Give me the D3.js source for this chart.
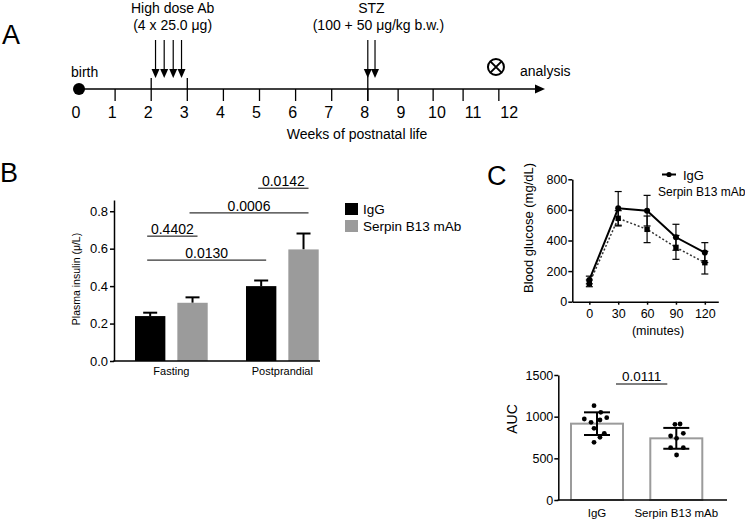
<!DOCTYPE html>
<html><head><meta charset="utf-8">
<script src="https://cdn.jsdelivr.net/npm/d3@7"></script>
<style>
body{margin:0;background:#fff}
svg text{font-family:"Liberation Sans",Arial,Helvetica,sans-serif;fill:#000}
</style>
</head><body>
<svg id="chart" width="745" height="520"></svg>
<script>
// ---------- Panel A data ----------
const weekLabels = [0,1,2,3,4,5,6,7,8,9,10,11,12];
const tickWeeks = [1,2,3,4,5,6,7,8,8.84,9.81,10.64,11.63];
const bracketWeeks = [2,3];
const abWeeks = [2.12,2.36,2.61,2.84];
const stzWeeks = [8.0,8.2];
const analysisWeek = 11.55;

// ---------- Panel B data ----------
const groups = ["Fasting","Postprandial"];
const seriesB = ["IgG","Serpin B13 mAb"];
const insulinIgG = [0.240, 0.400];
const insulinIgGErr = [0.018, 0.030];
const insulinSerpin = [0.311, 0.596];
const insulinSerpinErr = [0.029, 0.085];
const insulinTicks = [0,0.2,0.4,0.6,0.8];
const compLabels = ["0.4402","0.0130","0.0006","0.0142"];
const compFrom = [["Fasting","IgG"],["Fasting","IgG"],["Fasting","Serpin B13 mAb"],["Postprandial","IgG"]];
const compTo = [["Fasting","Serpin B13 mAb"],["Postprandial","IgG"],["Postprandial","Serpin B13 mAb"],["Postprandial","Serpin B13 mAb"]];
const compLevel = [0.667,0.539,0.791,0.923];

// ---------- Panel C (glucose) data ----------
const minutes = [0,30,60,90,120];
const glucoseIgG = [142,610,595,421,321];
const glucoseIgGSD = [25,110,100,85,65];
const glucoseSerpin = [120,545,473,355,255];
const glucoseSerpinSD = [22,50,87,78,74];
const glucoseTicks = [0,200,400,600,800];

// ---------- Panel C (AUC) data ----------
const aucGroups = ["IgG","Serpin B13 mAb"];
const aucMean = [916,740];
const aucSD = [136,125];
const aucIgG = [1132,1052,972,932,960,988,860,800,752,692];
const aucSerpin = [908,912,768,800,740,628,628,540];
const jitterIgG = [-0.055,0.07,-0.235,-0.11,0.055,0.18,-0.055,0.135,0.055,-0.055];
const jitterSerpin = [-0.025,0.07,-0.105,0.13,0.005,-0.105,0.13,0.005];
const aucTicks = [0,500,1000,1500];
const aucP = "0.0111";

const svg = d3.select("#chart");
const FONT = '"Liberation Sans",Arial,Helvetica,sans-serif';

function label(g, txt, x, y, size, anchor, rot){
  const t = g.append("text").text(txt).attr("font-size", size).attr("text-anchor", anchor||"start");
  if(rot){ t.attr("transform",`translate(${x},${y}) rotate(${rot})`); }
  else { t.attr("x",x).attr("y",y); }
  return t;
}

// ================= Panel A =================
{
  const g = svg.append("g");
  const x = d3.scaleLinear().domain([0,12]).range([79, 79+36.1*12]);
  const yA = 89;
  label(g,"A",2,44,27);
  g.append("line").attr("x1",x(0)).attr("x2",541).attr("y1",yA).attr("y2",yA).attr("stroke","#000").attr("stroke-width",1.5);
  g.append("path").attr("d",`M535,${yA-4.5}L545,${yA}L535,${yA+4.5}Z`).attr("fill","#000");
  g.append("circle").attr("cx",x(0)).attr("cy",yA).attr("r",6).attr("fill","#000");
  g.selectAll(".tk").data(tickWeeks).join("line")
    .attr("x1",d=>x(d)).attr("x2",d=>x(d))
    .attr("y1",d=>bracketWeeks.includes(d)?78:yA).attr("y2",101)
    .attr("stroke","#000").attr("stroke-width",1.3);
  g.selectAll(".tl").data(weekLabels).join("text")
    .attr("x",d=>x(d)-3).attr("y",118).attr("text-anchor","middle").attr("font-size",16).text(d=>d);
  function arrow(w){
    g.append("line").attr("x1",x(w)).attr("x2",x(w)).attr("y1",40).attr("y2",71).attr("stroke","#000").attr("stroke-width",1.2);
    g.append("path").attr("d",`M${x(w)-4},69L${x(w)+4},69L${x(w)},78Z`).attr("fill","#000");
  }
  abWeeks.forEach(arrow);
  stzWeeks.forEach(arrow);
  g.append("line").attr("x1",x(stzWeeks[0])).attr("x2",x(stzWeeks[0])).attr("y1",76).attr("y2",101).attr("stroke","#000").attr("stroke-width",1.3);
  const abC = x(d3.mean(abWeeks))+4;
  label(g,"High dose Ab",abC,13,14,"middle");
  label(g,"(4 x 25.0 μg)",abC,30,14,"middle");
  const stzC = x(d3.mean(stzWeeks));
  label(g,"STZ",stzC,13,14,"middle");
  label(g,"(100 + 50 μg/kg b.w.)",stzC+7,30,14,"middle");
  label(g,"birth",71,77,14);
  const ax = x(analysisWeek), ay = 67, r = 8;
  g.append("circle").attr("cx",ax).attr("cy",ay).attr("r",r).attr("fill","none").attr("stroke","#000").attr("stroke-width",2);
  const k = r*0.7;
  g.append("path").attr("d",`M${ax-k},${ay-k}L${ax+k},${ay+k}M${ax+k},${ay-k}L${ax-k},${ay+k}`).attr("stroke","#000").attr("stroke-width",2);
  label(g,"analysis",520,76,14);
  label(g,"Weeks of postnatal life",357,139,14,"middle");
}

// ================= Panel B =================
{
  const g = svg.append("g");
  label(g,"B",0,182,27);
  const y = d3.scaleLinear().domain([0,0.86]).range([361,200]);
  const x0 = d3.scaleBand().domain(groups).range([135,318.7]).paddingInner(0.345).paddingOuter(0);
  const x1 = d3.scaleBand().domain(seriesB).range([0,x0.bandwidth()]).paddingInner(0.283).paddingOuter(0);
  const color = d3.scaleOrdinal().domain(seriesB).range(["#000000","#9b9b9b"]);
  const rows = [];
  groups.forEach((gr,i)=>{
    rows.push({g:gr,s:seriesB[0],v:insulinIgG[i],e:insulinIgGErr[i]});
    rows.push({g:gr,s:seriesB[1],v:insulinSerpin[i],e:insulinSerpinErr[i]});
  });
  const cx = (gr,s)=>x0(gr)+x1(s)+x1.bandwidth()/2;
  rows.forEach(d=>{
    const c = cx(d.g,d.s);
    g.append("line").attr("x1",c).attr("x2",c).attr("y1",y(d.v)).attr("y2",y(d.v+d.e)).attr("stroke","#000").attr("stroke-width",2);
    g.append("line").attr("x1",c-7).attr("x2",c+7).attr("y1",y(d.v+d.e)).attr("y2",y(d.v+d.e)).attr("stroke","#000").attr("stroke-width",2);
  });
  g.selectAll(".bar").data(rows).join("rect")
    .attr("x",d=>x0(d.g)+x1(d.s)).attr("width",x1.bandwidth())
    .attr("y",d=>y(d.v)).attr("height",d=>y(0)-y(d.v)).attr("fill",d=>color(d.s));
  const ya = g.append("g").attr("transform","translate(114,0)")
    .call(d3.axisLeft(y).tickValues(insulinTicks).tickFormat(d3.format(".1f")).tickSize(4).tickSizeOuter(0).tickPadding(2));
  ya.select(".domain").attr("stroke-width",1.5);
  ya.selectAll(".tick line").attr("stroke-width",1.5);
  ya.selectAll(".tick text").attr("font-size",13).attr("font-family",FONT);
  g.append("line").attr("x1",113.3).attr("x2",320).attr("y1",y(0)).attr("y2",y(0)).attr("stroke","#000").attr("stroke-width",1.5);
  groups.forEach(gr=>label(g,gr,x0(gr)+x0.bandwidth()/2,375,11,"middle"));
  label(g,"Plasma insulin (μ/L)",80,279,10.5,"middle",-90);
  compLabels.forEach((p,i)=>{
    const xa = cx(compFrom[i][0],compFrom[i][1])-3;
    const xb = cx(compTo[i][0],compTo[i][1])+5;
    const yy = y(compLevel[i]);
    g.append("line").attr("x1",xa).attr("x2",xb).attr("y1",yy).attr("y2",yy).attr("stroke","#000").attr("stroke-width",1);
    label(g,p,(xa+xb)/2,yy-2,14,"middle");
  });
  seriesB.forEach((s,i)=>{
    g.append("rect").attr("x",345).attr("y",203+i*17).attr("width",13).attr("height",12).attr("fill",color(s));
    label(g,s,363,214+i*17,13.5);
  });
}

// ================= Panel C (glucose) =================
{
  const g = svg.append("g");
  label(g,"C",487,185,27);
  const x = d3.scaleLinear().domain([-17.7,134]).range([572.3,718.3]);
  const y = d3.scaleLinear().domain([0,800]).range([301.7,179.3]);
  const ya = g.append("g").attr("transform","translate(572.3,0)")
    .call(d3.axisLeft(y).tickValues(glucoseTicks).tickSize(4).tickSizeOuter(0).tickPadding(1));
  const xa = g.append("g").attr("transform",`translate(0,${y(0)})`)
    .call(d3.axisBottom(x).tickValues(minutes).tickSize(3).tickSizeOuter(0).tickPadding(4));
  [ya,xa].forEach(a=>{
    a.select(".domain").attr("stroke-width",1.5);
    a.selectAll(".tick line").attr("stroke-width",1.5);
    a.selectAll(".tick text").attr("font-size",12.5).attr("font-family",FONT);
  });
  label(g,"(minutes)",658,335,12.5,"middle");
  label(g,"Blood glucose (mg/dL)",533,228,13,"middle",-90);
  const seriesC = [
    {v:glucoseSerpin, e:glucoseSerpinSD, dash:"2,2", w:1.5, col:"#333", marker:"square"},
    {v:glucoseIgG, e:glucoseIgGSD, dash:null, w:2, col:"#000", marker:"circle"}
  ];
  seriesC.forEach(s=>{
    const pts = minutes.map((m,i)=>[m,s.v[i],s.e[i]]);
    g.append("path").datum(pts).attr("d",d3.line().x(d=>x(d[0])).y(d=>y(d[1])))
      .attr("fill","none").attr("stroke",s.col).attr("stroke-width",s.w).attr("stroke-dasharray",s.dash);
    pts.forEach(d=>{
      const c = x(d[0]);
      g.append("line").attr("x1",c).attr("x2",c).attr("y1",y(d[1]-d[2])).attr("y2",y(d[1]+d[2])).attr("stroke","#000").attr("stroke-width",1.2);
      [d[1]-d[2],d[1]+d[2]].forEach(v=>g.append("line").attr("x1",c-3.5).attr("x2",c+3.5).attr("y1",y(v)).attr("y2",y(v)).attr("stroke","#000").attr("stroke-width",1.2));
      if(s.marker==="circle") g.append("circle").attr("cx",c).attr("cy",y(d[1])).attr("r",3).attr("fill","#000");
      else g.append("rect").attr("x",c-2.7).attr("y",y(d[1])-2.7).attr("width",5.4).attr("height",5.4).attr("fill","#000");
    });
  });
  g.append("line").attr("x1",662).attr("x2",676).attr("y1",174.5).attr("y2",174.5).attr("stroke","#000").attr("stroke-width",2);
  g.append("circle").attr("cx",669).attr("cy",174.5).attr("r",2.6).attr("fill","#000");
  label(g,"IgG",683,180,13);
  label(g,"Serpin B13 mAb",658,196,12);
}

// ================= Panel C (AUC) =================
{
  const g = svg.append("g");
  const y = d3.scaleLinear().domain([0,1500]).range([500,375]);
  const x = d3.scaleBand().domain(aucGroups).range([570,703.3]).paddingInner(0.319).paddingOuter(0);
  const bw = x.bandwidth();
  g.selectAll(".ab").data(aucGroups).join("rect")
    .attr("x",d=>x(d)+1).attr("width",bw-2)
    .attr("y",(d,i)=>y(aucMean[i])).attr("height",(d,i)=>y(0)-y(aucMean[i]))
    .attr("fill","#fff").attr("stroke","#9b9b9b").attr("stroke-width",2);
  const ya = g.append("g").attr("transform","translate(558.3,0)")
    .call(d3.axisLeft(y).tickValues(aucTicks).tickFormat(d3.format("d")).tickSize(4).tickSizeOuter(0).tickPadding(1));
  ya.select(".domain").attr("stroke-width",1.5);
  ya.selectAll(".tick line").attr("stroke-width",1.5);
  ya.selectAll(".tick text").attr("font-size",12.5).attr("font-family",FONT);
  g.append("line").attr("x1",557.6).attr("x2",727).attr("y1",y(0)).attr("y2",y(0)).attr("stroke","#000").attr("stroke-width",1.5);
  const dots = [aucIgG, aucSerpin], jit = [jitterIgG, jitterSerpin];
  aucGroups.forEach((gr,i)=>{
    const c = x(gr)+bw/2;
    g.append("line").attr("x1",c).attr("x2",c).attr("y1",y(aucMean[i]-aucSD[i])).attr("y2",y(aucMean[i]+aucSD[i])).attr("stroke","#000").attr("stroke-width",2);
    [aucMean[i]-aucSD[i],aucMean[i]+aucSD[i]].forEach(v=>g.append("line").attr("x1",c-13).attr("x2",c+13).attr("y1",y(v)).attr("y2",y(v)).attr("stroke","#000").attr("stroke-width",2));
    g.selectAll(null).data(dots[i]).join("circle")
      .attr("cx",(d,j)=>c+jit[i][j]*bw).attr("cy",d=>y(d)).attr("r",2.4).attr("fill","#000");
    label(g,gr,c,517,11.5,"middle");
  });
  const xa1 = x(aucGroups[0])+bw/2+19, xb1 = x(aucGroups[1])+bw/2-9, yy = y(1392);
  g.append("line").attr("x1",xa1).attr("x2",xb1).attr("y1",yy).attr("y2",yy).attr("stroke","#000").attr("stroke-width",1);
  label(g,aucP,(xa1+xb1)/2,yy-3,13.5,"middle");
  label(g,"AUC",517,419,14,"middle",-90);
}
</script>
</body></html>
